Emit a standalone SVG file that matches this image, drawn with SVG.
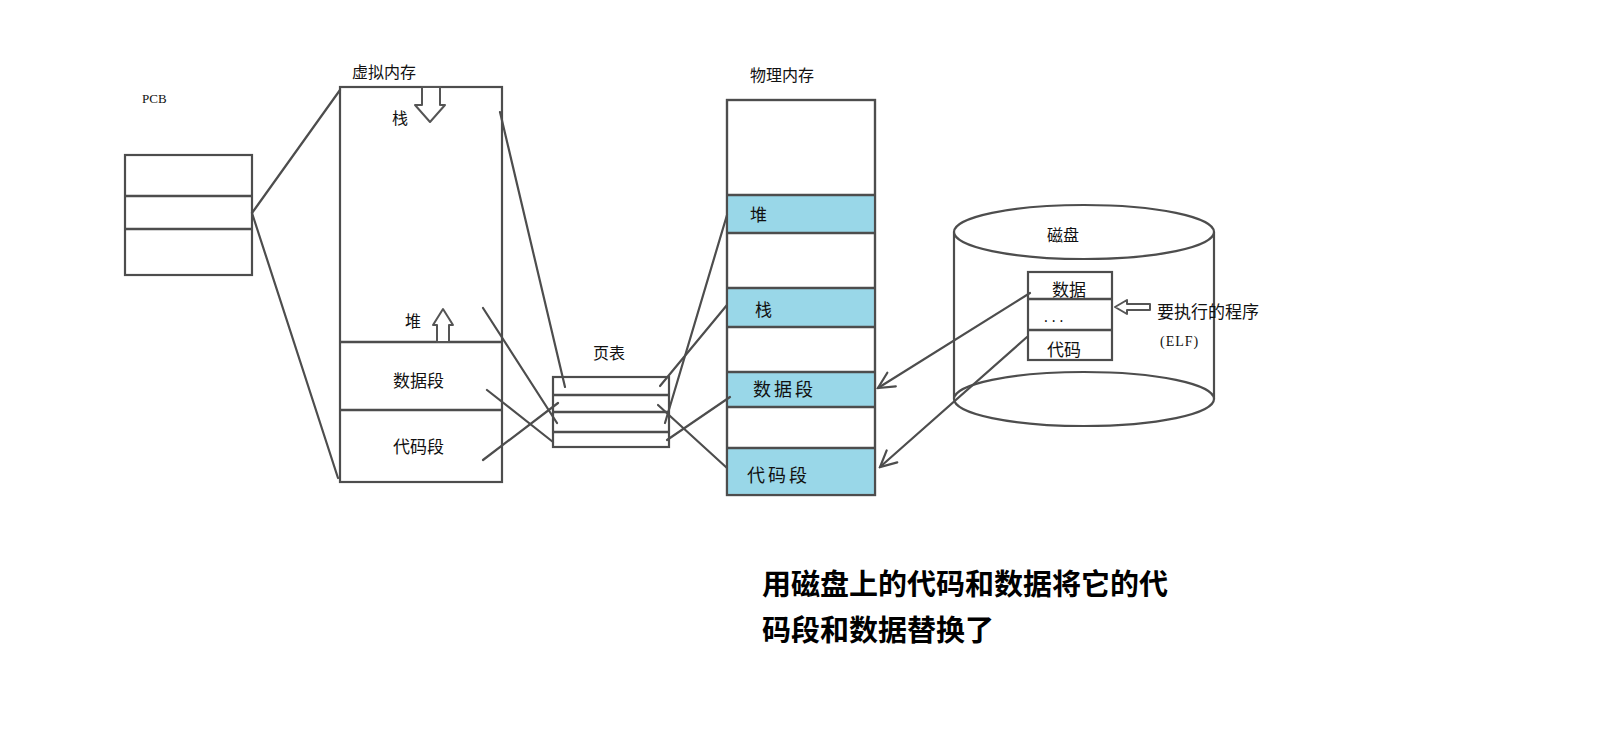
<svg xmlns="http://www.w3.org/2000/svg" width="1603" height="741" viewBox="0 0 1603 741">
<style>
.box{fill:#fff;stroke:#4d4d4d;stroke-width:2.2}
.div{stroke:#4d4d4d;stroke-width:2.6;fill:none}
.band{fill:#99d7e8;stroke:none}
.ln{stroke:#4d4d4d;stroke-width:2.2;fill:none;stroke-linecap:round}
.blk{fill:#fff;stroke:#555;stroke-width:2;stroke-linejoin:round}
.t{font-family:"Noto Sans CJK SC","Noto Sans",sans-serif;font-size:16px;fill:#111}
.s{font-family:"Liberation Serif",serif;font-size:13px;fill:#111}
.big{font-family:"Noto Sans CJK SC",sans-serif;font-size:29px;font-weight:bold;fill:#000}
.sk{filter:url(#soft)}
</style>
<defs>
<filter id="soft" x="-5%" y="-5%" width="110%" height="110%">
<feGaussianBlur stdDeviation="0.45"/>
</filter>
<marker id="open" viewBox="0 0 20 20" refX="18" refY="10" markerWidth="20" markerHeight="20" markerUnits="userSpaceOnUse" orient="auto">
<path d="M2,2 L18,10 L2,18" fill="none" stroke="#4d4d4d" stroke-width="2.2" stroke-linecap="round"/>
</marker>
</defs>
<rect width="1603" height="741" fill="#fff"/>

<g id="pcb">
<text class="s" x="142" y="103">PCB</text>
<g class="sk">
<rect class="box" x="125" y="155" width="127" height="120"/>
<line class="div" x1="125" y1="196" x2="252" y2="196"/>
<line class="div" x1="125" y1="229" x2="252" y2="229"/>
</g>
</g>

<g id="virtual-memory">
<text class="t" x="352" y="78">虚拟内存</text>
<g class="sk">
<rect class="box" x="340" y="87" width="162" height="395"/>
<line class="div" x1="340" y1="342" x2="502" y2="342"/>
<line class="div" x1="340" y1="410" x2="502" y2="410"/>
<polygon class="blk" points="422,87 440,87 440,105 445,105 430,122 415,105 422,105"/>
<polygon class="blk" points="443,309 453,325 449,325 449,342 437,342 437,325 433,325"/>
</g>
<text class="t" x="392" y="124">栈</text>
<text class="t" x="405" y="327">堆</text>
<text class="t" x="393" y="387" style="font-size:17px">数据段</text>
<text class="t" x="393" y="453" style="font-size:17px">代码段</text>
</g>

<g id="page-table">
<text class="t" x="593" y="359">页表</text>
<g class="sk">
<rect class="box" x="553" y="377" width="116" height="70"/>
<line class="div" x1="553" y1="395" x2="669" y2="395"/>
<line class="div" x1="553" y1="412" x2="669" y2="412"/>
<line class="div" x1="553" y1="432" x2="669" y2="432"/>
</g>
</g>

<g id="physical-memory">
<text class="t" x="750" y="81">物理内存</text>
<rect class="box sk" x="727" y="100" width="148" height="395"/>
<rect class="band" x="728" y="195" width="146" height="38"/>
<rect class="band" x="728" y="288" width="146" height="39"/>
<rect class="band" x="728" y="372" width="146" height="35"/>
<rect class="band" x="728" y="448" width="146" height="46"/>
<g class="sk">
<line class="div" x1="727" y1="195" x2="875" y2="195"/>
<line class="div" x1="727" y1="233" x2="875" y2="233"/>
<line class="div" x1="727" y1="288" x2="875" y2="288"/>
<line class="div" x1="727" y1="327" x2="875" y2="327"/>
<line class="div" x1="727" y1="372" x2="875" y2="372"/>
<line class="div" x1="727" y1="407" x2="875" y2="407"/>
<line class="div" x1="727" y1="448" x2="875" y2="448"/>
<rect x="727" y="100" width="148" height="395" fill="none" stroke="#4d4d4d" stroke-width="2.2"/>
</g>
<text class="t" x="750" y="221" style="font-size:17px">堆</text>
<text class="t" x="755" y="316" style="font-size:17px">栈</text>
<text class="t" x="753" y="396" style="font-size:18px;letter-spacing:3px">数据段</text>
<text class="t" x="747" y="482" style="font-size:18px;letter-spacing:3px">代码段</text>
</g>

<g id="disk">
<g class="sk">
<rect x="954" y="232" width="260" height="167" fill="#fff"/>
<line class="ln" x1="954" y1="232" x2="954" y2="399"/>
<line class="ln" x1="1214" y1="232" x2="1214" y2="399"/>
<ellipse class="box" cx="1084" cy="232" rx="130" ry="27"/>
<ellipse class="box" cx="1084" cy="399" rx="130" ry="27"/>
<rect class="box" x="1028" y="272" width="84" height="88"/>
<line class="div" x1="1028" y1="299" x2="1112" y2="299"/>
<line class="div" x1="1028" y1="330" x2="1112" y2="330"/>
</g>
<text class="t" x="1047" y="241">磁盘</text>
<text class="t" x="1052" y="296" style="font-size:17px">数据</text>
<text class="s" x="1042" y="322" style="font-family:'Liberation Mono',monospace;font-size:13px">...</text>
<text class="t" x="1047" y="356" style="font-size:17px">代码</text>
</g>

<g id="elf-label">
<polygon class="blk sk" points="1115,307 1127,300 1127,304 1150,304 1150,310 1127,310 1127,314"/>
<text class="t" x="1157" y="318" style="font-size:17px">要执行的程序</text>
<text class="s" x="1160" y="346" style="font-size:14px;letter-spacing:1px">(ELF)</text>
</g>

<g id="connectors" class="sk">
<line class="ln" x1="252" y1="213" x2="340" y2="90"/>
<line class="ln" x1="252" y1="213" x2="338" y2="478"/>
<line class="ln" x1="500" y1="112" x2="565" y2="387"/>
<line class="ln" x1="483" y1="308" x2="557" y2="423"/>
<line class="ln" x1="487" y1="390" x2="553" y2="442"/>
<line class="ln" x1="483" y1="460" x2="558" y2="403"/>
<line class="ln" x1="660" y1="386" x2="727" y2="305"/>
<line class="ln" x1="665" y1="423" x2="727" y2="215"/>
<line class="ln" x1="667" y1="440" x2="730" y2="397"/>
<line class="ln" x1="658" y1="405" x2="727" y2="468"/>
<line class="ln" x1="1030" y1="293" x2="878" y2="388" marker-end="url(#open)"/>
<line class="ln" x1="1027" y1="337" x2="880" y2="467" marker-end="url(#open)"/>
</g>

<g id="caption">
<text class="big" x="762" y="595">用磁盘上的代码和数据将它的代</text>
<text class="big" x="762" y="641">码段和数据替换了</text>
</g>
</svg>
